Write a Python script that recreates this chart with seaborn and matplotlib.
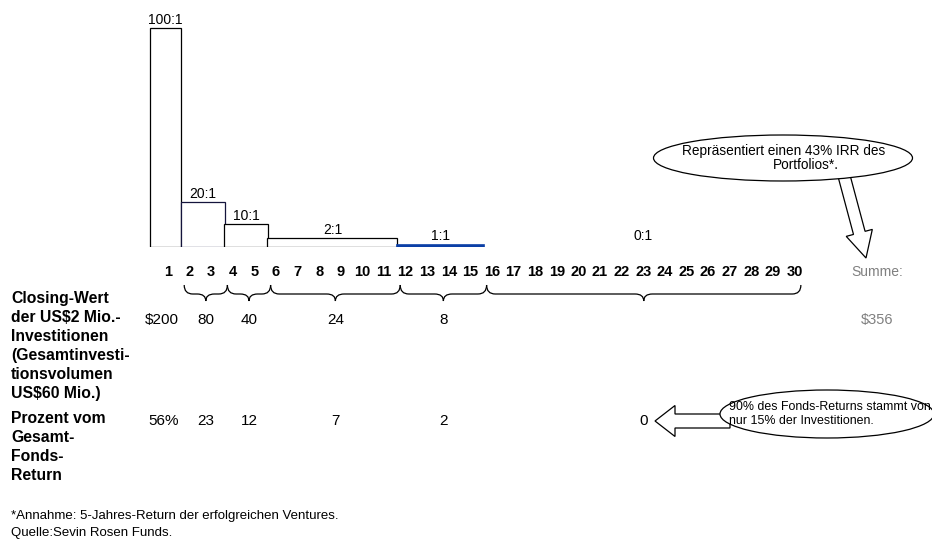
import numpy as np
import seaborn as sns
import matplotlib.pyplot as plt
from matplotlib.patches import Ellipse, FancyArrow, PathPatch
from matplotlib.path import Path
from matplotlib.transforms import blended_transform_factory

# --- data ---
ratio_labels = ["100:1", "20:1", "10:1", "2:1", "1:1", "0:1"]
bar_heights = [100, 20.4, 10.6, 3.9, 0.9, 0]        # Höhe wie im Bild gezeichnet
group_first = [1, 2, 4, 6, 12, 16]
group_last = [1, 3, 5, 11, 15, 30]
closing_values = ["$200", "80", "40", "24", "8", ""]
pct_values = ["56%", "23", "12", "7", "2", "0"]
investments = list(range(1, 31))
total_label = "$356"

label_closing = "Closing-Wert\nder US$2 Mio.-\nInvestitionen\n(Gesamtinvesti-\ntionsvolumen\nUS$60 Mio.)"
label_pct = "Prozent vom\nGesamt-\nFonds-\nReturn"
callout_top = ["Repräsentiert einen 43% IRR des", "Portfolios*."]
callout_bottom = "90% des Fonds-Returns stammt von\nnur 15% der Investitionen."
footnotes = ["*Annahme: 5-Jahres-Return der erfolgreichen Ventures.",
             "Quelle:Sevin Rosen Funds."]

sns.set_theme(style="white")
plt.rcParams['font.family'] = ['Liberation Sans', 'DejaVu Sans']

W, H = 932, 541
fig = plt.figure(figsize=(W / 100, H / 100), dpi=100)

# Pixel-Achse für freie Beschriftungen
ax_px = fig.add_axes([0, 0, 1, 1])
ax_px.set_xlim(0, W)
ax_px.set_ylim(H, 0)
ax_px.axis('off')

# Balken-Achse: x in Investitions-Einheiten, y in Multiplikator
base_px, unit_px, x_one_px, y_unit_px = 247, 21.6, 168, 2.193
ax = fig.add_axes([0, (H - base_px) / H, 1, base_px / H])
ax.patch.set_alpha(0)

sns.barplot(x=ratio_labels[:5], y=bar_heights[:5], color='white',
            edgecolor='black', linewidth=0.9, saturation=1, ax=ax)

for i, patch in enumerate(ax.patches):
    left = group_first[i] - 0.4 - (0.45 if i == 0 else 0)
    right = group_last[i] + 0.62
    patch.set_x(left)
    patch.set_width(right - left)
    if i == 1:
        patch.set_edgecolor('#14143c')
    if i == 4:
        patch.set_facecolor('#0b3fa6')
        patch.set_edgecolor('#0b3fa6')
        patch.set_linewidth(1.2)

ax.set_xlim(1 - x_one_px / unit_px, 1 + (W - x_one_px) / unit_px)
ax.set_ylim(0, base_px / y_unit_px)
ax.axis('off')

# Beschriftung der Balken
for i, lab in enumerate(ratio_labels):
    p_left = group_first[i] - 0.4 - (0.45 if i == 0 else 0)
    p_right = group_last[i] + 0.62
    xc = (p_left + p_right) / 2 if i < 5 else (group_first[i] + group_last[i]) / 2
    ax.text(xc, max(bar_heights[i], 1.2) + 0.5, lab, ha='center', va='bottom',
            fontsize=10, color='black', clip_on=False)

mix = blended_transform_factory(ax.transData, ax_px.transData)

# Investitionsnummern
for n in investments:
    ax_px.text(n, 272, str(n), transform=mix, ha='center', va='center',
               fontsize=10.5, fontweight='bold', color='black')


def brace(x0, x1, y_top=285, y_mid=294, y_tip=301, r=0.4):
    xm = (x0 + x1) / 2
    verts = [(x0, y_top), (x0, y_mid), (x0 + r, y_mid),
             (xm - r, y_mid), (xm, y_mid), (xm, y_tip),
             (xm, y_mid), (xm + r, y_mid),
             (x1 - r, y_mid), (x1, y_mid), (x1, y_top)]
    codes = [Path.MOVETO, Path.CURVE3, Path.CURVE3,
             Path.LINETO, Path.CURVE3, Path.CURVE3,
             Path.CURVE3, Path.CURVE3,
             Path.LINETO, Path.CURVE3, Path.CURVE3]
    ax_px.add_patch(PathPatch(Path(verts, codes), transform=mix, fill=False,
                              lw=0.9, ec='black', clip_on=False))
    return xm


for i in range(6):
    if i == 0:
        xm = group_first[0] - 0.27
    else:
        x0 = group_first[i] - 0.25
        x1 = group_last[i] + (0.75 if i < 5 else 0.3)
        xm = brace(x0, x1)
    if closing_values[i]:
        ax_px.text(xm, 320, closing_values[i], transform=mix, ha='center',
                   va='center', fontsize=11, color='black')
    ax_px.text(xm if i else xm + 0.07, 421, pct_values[i], transform=mix, ha='center',
               va='center', fontsize=11, color='black')

# Summe
ax_px.text(877, 272, "Summe:", ha='center', va='center', fontsize=10, color='#808080')
ax_px.text(877, 320, total_label, ha='center', va='center', fontsize=10.5, color='#808080')

# Linke Beschriftungen
ax_px.text(11, 291, label_closing, ha='left', va='top', fontsize=11.3,
           fontweight='bold', linespacing=1.33, color='black')
ax_px.text(11, 411, label_pct, ha='left', va='top', fontsize=11.3,
           fontweight='bold', linespacing=1.33, color='black')

# Callout oben
ax_px.add_patch(FancyArrow(843, 172, 23, 86, width=12, head_width=27, head_length=26,
                           length_includes_head=True, fc='white', ec='black', lw=0.9, zorder=2))
ax_px.add_patch(Ellipse((783, 158), 259, 46, fc='white', ec='black', lw=0.9, zorder=3))
ax_px.text(784, 151, callout_top[0], ha='center', va='center', fontsize=9.8,
           color='black', zorder=4)
ax_px.text(806, 165, callout_top[1], ha='center', va='center', fontsize=9.8,
           color='black', zorder=4)

# Callout unten
ax_px.add_patch(FancyArrow(730, 421, -75, 0, width=14, head_width=31, head_length=20,
                           length_includes_head=True, fc='white', ec='black', lw=0.9, zorder=2))
ax_px.add_patch(Ellipse((827, 414), 214, 48, fc='white', ec='black', lw=0.9,
                        zorder=3, clip_on=False))
ax_px.text(729, 414, callout_bottom, ha='left', va='center', fontsize=8.9,
           linespacing=1.15, color='black', zorder=4)

# Fußnoten
ax_px.text(11, 516, footnotes[0], ha='left', va='center', fontsize=9.5, color='black')
ax_px.text(11, 533, footnotes[1], ha='left', va='center', fontsize=9.5, color='black')

fig.savefig("out.png", dpi=100)
